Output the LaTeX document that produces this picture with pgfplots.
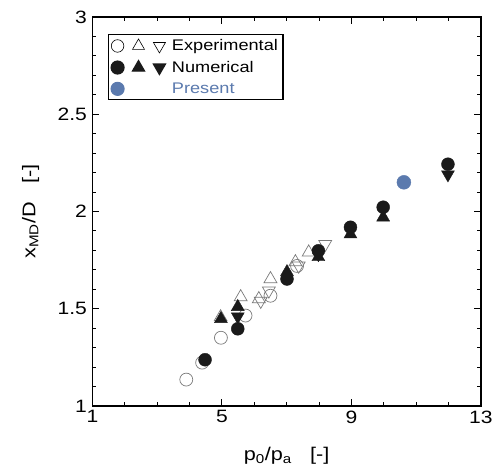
\documentclass[border=0pt]{standalone}
\usepackage{fontspec}
\setmainfont{Liberation Sans}[FakeStretch=1.18]
\usepackage{pgfplots}
\pgfplotsset{compat=1.18}
\definecolor{present}{HTML}{5B7AAE}
\definecolor{numc}{HTML}{1A1A1A}
\definecolor{expc}{HTML}{7A7A7A}
\newcommand\legmark[3]{\begin{scope}[shift={(#1,0)},#3]\pgfuseplotmark{#2}\end{scope}}
\begin{document}
\begin{tikzpicture}
\begin{axis}[
  name=ax,
  scale only axis, width=390bp, height=390.5bp,
  xmin=1, xmax=13, ymin=1, ymax=3,
  xtick={1,5,9,13}, minor x tick num=3,
  ytick={1,1.5,2,2.5,3}, minor y tick num=4,
  tick align=inside, major tick length=7bp, minor tick length=4bp,
  axis line style={line width=1.3bp},
  every tick/.style={line width=0.9bp, black},
  /pgf/number format/assume math mode=true,
  ticklabel style={font=\fontsize{18}{18}\selectfont},
  xticklabel style={yshift=-1bp},
  yticklabel style={xshift=-2bp},
  xlabel={p\textsubscript{0}/p\textsubscript{a}\hspace{1em}[-]},
  ylabel={x\textsubscript{MD}/D\hspace{1em}[-]},
  label style={font=\fontsize{18.5}{18.5}\selectfont},
  xlabel style={at={(rel axis cs:0.5,0)}, anchor=center, yshift=-50bp},
  ylabel style={at={(rel axis cs:0,0.5)}, anchor=center, yshift=62bp},
  legend cell align=left,
  legend style={at={(rel axis cs:0.039,0.956)}, anchor=north west,
    draw=black, line width=1.2bp, font=\fontsize{15.5}{16}\selectfont,
    row sep=5bp, inner xsep=3bp, inner ysep=3bp},
]
% legend entries
\addlegendimage{legend image code/.code={
  \legmark{0bp}{o}{draw=black,line width=0.6bp,mark size=6.3bp}
  \legmark{21bp}{triangle}{draw=black,line width=0.6bp,mark size=7bp}
  \legmark{42bp}{triangle}{draw=black,line width=0.6bp,mark size=7bp,rotate=180}
  \path (52bp,0);}}
\addlegendentry{Experimental}
\addlegendimage{legend image code/.code={
  \legmark{0bp}{*}{draw=numc,fill=numc,mark size=6.5bp}
  \legmark{21bp}{triangle*}{draw=numc,fill=numc,mark size=7bp}
  \legmark{42bp}{triangle*}{draw=numc,fill=numc,mark size=7bp,rotate=180}
  \path (52bp,0);}}
\addlegendentry{Numerical}
\addlegendimage{legend image code/.code={
  \legmark{0bp}{*}{draw=present,fill=present,mark size=6.5bp}
  \path (52bp,0);}}
\addlegendentry{\textcolor{present}{Present}}

% experimental (open)
\addplot[forget plot, only marks, mark=o, mark size=6.5bp, mark options={draw=expc, line width=0.7bp}]
coordinates {(3.90,1.136) (4.39,1.223) (4.97,1.351) (5.73,1.465) (6.50,1.567) (7.32,1.720)};
\addplot[forget plot, only marks, mark=triangle, mark size=7.5bp, mark options={draw=expc, line width=0.7bp}]
coordinates {(4.96,1.457) (5.58,1.560) (6.14,1.550) (6.50,1.653) (7.27,1.740) (7.68,1.790)};
\addplot[forget plot, only marks, mark=triangle, mark size=7.5bp, mark options={draw=expc, line width=0.7bp, rotate=180}]
coordinates {(6.20,1.540) (6.45,1.593) (7.37,1.721) (8.19,1.832)};

% numerical (filled)
\addplot[forget plot, only marks, mark=*, mark size=6.5bp, mark options={draw=numc, fill=numc}]
coordinates {(4.48,1.238) (5.49,1.397) (7.01,1.653) (7.98,1.798) (8.97,1.919) (9.98,2.022) (11.98,2.243)};
\addplot[forget plot, only marks, mark=triangle*, mark size=7.5bp, mark options={draw=numc, fill=numc}]
coordinates {(4.97,1.448) (5.49,1.510) (7.01,1.689) (7.98,1.766) (8.97,1.883) (9.98,1.970)};
\addplot[forget plot, only marks, mark=triangle*, mark size=7.5bp, mark options={draw=numc, fill=numc, rotate=180}]
coordinates {(5.49,1.460) (7.98,1.780) (11.98,2.190)};

% present
\addplot[forget plot, only marks, mark=*, mark size=7bp, mark options={draw=present, fill=present}]
coordinates {(10.62,2.150)};
\end{axis}
\path[use as bounding box] ([shift={(-92.7bp,-67.5bp)}]ax.south west) rectangle ([shift={(13bp,17bp)}]ax.north east);
\end{tikzpicture}
\end{document}
